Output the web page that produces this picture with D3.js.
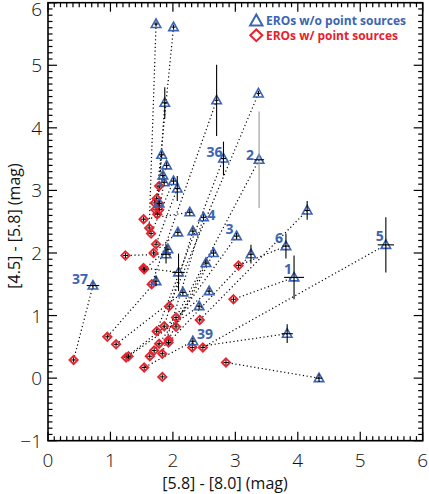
<!DOCTYPE html>
<html><head><meta charset="utf-8">
<script src="https://cdn.jsdelivr.net/npm/d3@7"></script>
<style>body{margin:0;background:#fff}</style>
</head><body>
<script>
// ---- data ----
// EROs without point sources (triangles): x=[5.8]-[8.0], y=[4.5]-[5.8]
const triX = [1.73,2.01,1.87,2.70,3.37,2.81,3.38,1.82,1.90,1.84,1.86,2.01,2.07,1.78,2.27,2.49,2.08,2.32,3.02,4.15,3.81,3.25,2.65,2.53,1.92,1.89,2.09,3.94,5.41,1.73,0.72,2.16,2.58,2.42,2.32,3.83,4.34];
const triY = [5.66,5.61,4.40,4.44,4.55,3.51,3.49,3.57,3.40,3.24,3.13,3.15,3.03,2.79,2.65,2.57,2.33,2.35,2.27,2.68,2.11,1.98,2.00,1.84,2.06,1.98,1.69,1.61,2.13,1.55,1.48,1.37,1.39,1.15,0.59,0.71,0.00];
const triXerr = [0.03,0.03,0.04,0.03,0.03,0.04,0.08,0.04,0.04,0.04,0.04,0.04,0.04,0.04,0.04,0.04,0.04,0.04,0.04,0.04,0.06,0.04,0.04,0.04,0.04,0.08,0.1,0.16,0.13,0.04,0.1,0.04,0.04,0.04,0.04,0.09,0.05];
const triYerr = [0.04,0.04,0.25,0.57,0.04,0.27,0.77,0.05,0.05,0.05,0.05,0.05,0.2,0.05,0.05,0.05,0.05,0.05,0.05,0.15,0.2,0.15,0.05,0.05,0.05,0.15,0.3,0.35,0.44,0.08,0.05,0.05,0.05,0.05,0.05,0.15,0.06];
// EROs with point sources (diamonds)
const diaX = [1.78,1.74,1.71,1.78,1.72,1.78,1.75,1.53,1.62,1.65,1.73,1.69,1.24,1.53,1.54,1.66,1.94,2.05,2.43,0.95,1.09,1.25,1.29,1.74,1.86,2.05,1.93,1.93,1.78,1.70,1.63,1.83,1.54,1.83,2.31,2.48,2.97,2.85,0.41,3.05];
const diaY = [3.07,2.87,2.80,2.79,2.69,2.69,2.62,2.54,2.40,2.31,2.14,2.00,1.96,1.76,1.74,1.50,1.15,0.97,0.93,0.66,0.54,0.33,0.35,0.75,0.83,0.82,0.61,0.57,0.55,0.44,0.35,0.39,0.17,0.02,0.49,0.49,1.26,0.25,0.29,1.80];
// pairs: triangle index -> diamond index (same object)
const pairTri = [0,1,2,3,4,5,6,7,8,9,10,11,12,13,14,15,16,17,18,19,20,21,22,23,24,25,26,27,28,29,30,31,32,33,34,35,36];
const pairDia = [8,4,6,15,16,23,17,0,1,2,5,9,10,3,7,31,11,24,30,18,39,27,25,26,14,12,13,36,35,19,38,20,21,22,32,34,37];
// numbered labels: triangle index and text
const labelTri = [30,5,6,15,18,20,27,28,34];
const labelTxt = ["37","36","2","4","3","6","1","5","39"];
const xTicks = [0,1,2,3,4,5,6];
const yTicks = [-1,0,1,2,3,4,5,6];

// ---- drawing ----
const W = 429, H = 494;
const L = 48, R = 422.7, T = 2.7, B = 440.7;
const BLUE = "#3c64b4", RED = "#e8212b";
// label placement (offset from its triangle)
const labelDx = [-5,-1,-5,4,-3,-3,-2,-2,4];
const labelDy = [-2,-2,0,3,-2,-3,-3,-4,-2];
const labelAnchor = ["end","end","end","start","end","end","end","end","start"];

const svg = d3.select("body").append("svg").attr("width", W).attr("height", H)
  .style("font-family","'Open Sans', 'Noto Sans', sans-serif");
const x = d3.scaleLinear().domain([0,6]).range([L,R]);
const y = d3.scaleLinear().domain([-1,6]).range([B,T]);

// dotted connecting lines
const g = svg.append("g");
pairTri.forEach((ti,k) => {
  const di = pairDia[k];
  g.append("line").attr("x1", x(triX[ti])).attr("y1", y(triY[ti]))
   .attr("x2", x(diaX[di])).attr("y2", y(diaY[di]))
   .attr("stroke","#000").attr("stroke-width",1.2).attr("stroke-dasharray","1.2,2.6");
});

// diamonds
const dsz = 4.2;
diaX.forEach((xv,i) => {
  const cx = x(xv), cy = y(diaY[i]);
  g.append("path").attr("d", `M${cx},${cy-dsz}L${cx+dsz},${cy}L${cx},${cy+dsz}L${cx-dsz},${cy}Z`)
   .attr("fill","none").attr("stroke",RED).attr("stroke-width",1.8);
  g.append("path").attr("d", `M${cx-2.5},${cy}H${cx+2.5}M${cx},${cy-2.5}V${cy+2.5}`)
   .attr("stroke","#000").attr("stroke-width",1);
});

// triangles with error bars
const ts = 5;
triX.forEach((xv,i) => {
  const cx = x(xv), cy = y(triY[i]);
  g.append("path").attr("d", `M${cx},${cy-ts}L${cx+ts*0.95},${cy+ts*0.7}L${cx-ts*0.95},${cy+ts*0.7}Z`)
   .attr("fill","none").attr("stroke",BLUE).attr("stroke-width",1.6);
  const col = i===6 ? "#999" : "#000";
  g.append("line").attr("x1",cx).attr("x2",cx).attr("y1",y(triY[i]+triYerr[i])).attr("y2",y(triY[i]-triYerr[i]))
   .attr("stroke",col).attr("stroke-width",1.1);
  g.append("line").attr("y1",cy).attr("y2",cy).attr("x1",x(xv-triXerr[i])).attr("x2",x(xv+triXerr[i]))
   .attr("stroke","#000").attr("stroke-width",1.1);
});

// number labels
labelTri.forEach((ti,k) => {
  svg.append("text").attr("x", x(triX[ti]) + labelDx[k]).attr("y", y(triY[ti]) + labelDy[k])
   .attr("text-anchor",labelAnchor[k]).attr("fill",BLUE).attr("font-weight","bold").attr("font-size",14)
   .text(labelTxt[k]);
});

// frame
svg.append("rect").attr("x",L).attr("y",T).attr("width",R-L).attr("height",B-T)
  .attr("fill","none").attr("stroke","#000").attr("stroke-width",1.6);
// ticks (inward on all sides)
const ax = svg.append("g").attr("stroke","#000").attr("stroke-width",1.2);
d3.range(0,60.5,1).forEach(k => {
  const v = k/10, px = x(v), len = (k%10===0) ? 9 : 4.5;
  ax.append("line").attr("x1",px).attr("x2",px).attr("y1",B).attr("y2",B-len);
  ax.append("line").attr("x1",px).attr("x2",px).attr("y1",T).attr("y2",T+len);
});
d3.range(-10,60.5,1).forEach(k => {
  const v = k/10, py = y(v), len = (k%10===0) ? 9 : 4.5;
  ax.append("line").attr("y1",py).attr("y2",py).attr("x1",L).attr("x2",L+len);
  ax.append("line").attr("y1",py).attr("y2",py).attr("x1",R).attr("x2",R-len);
});
// tick labels
xTicks.forEach(v => svg.append("text").attr("x",x(v)).attr("y",467).attr("text-anchor","middle")
  .attr("font-size",19).attr("font-weight",300).attr("fill","#111").text(v));
yTicks.forEach(v => svg.append("text").attr("x",42).attr("y",Math.max(y(v)+7,16)).attr("text-anchor","end")
  .attr("font-size",19).attr("font-weight",300).attr("fill","#111").text(v === -1 ? "\u22121" : v));
// axis titles
svg.append("text").attr("x",225).attr("y",489).attr("text-anchor","middle").attr("font-size",16)
  .attr("fill","#111").text("[5.8] - [8.0] (mag)");
svg.append("text").attr("transform",`translate(20,226) rotate(-90)`).attr("text-anchor","middle")
  .attr("font-size",16).attr("fill","#111").text("[4.5] - [5.8] (mag)");

// legend
const lg = svg.append("g");
lg.append("path").attr("d","M256.3,14.5L262.5,25.5L250.1,25.5Z").attr("fill","none").attr("stroke",BLUE).attr("stroke-width",2);
lg.append("text").attr("x",266).attr("y",25).attr("fill",BLUE).attr("font-weight","bold").attr("font-size",12.5)
  .attr("textLength",140).attr("lengthAdjust","spacingAndGlyphs").text("EROs w/o point sources");
lg.append("path").attr("d","M256.3,29.5L262.3,35.3L256.3,41.1L250.3,35.3Z").attr("fill","none").attr("stroke",RED).attr("stroke-width",2);
lg.append("text").attr("x",266).attr("y",39.5).attr("fill",RED).attr("font-weight","bold").attr("font-size",12.5)
  .attr("textLength",132).attr("lengthAdjust","spacingAndGlyphs").text("EROs w/ point sources");
</script>
</body></html>
